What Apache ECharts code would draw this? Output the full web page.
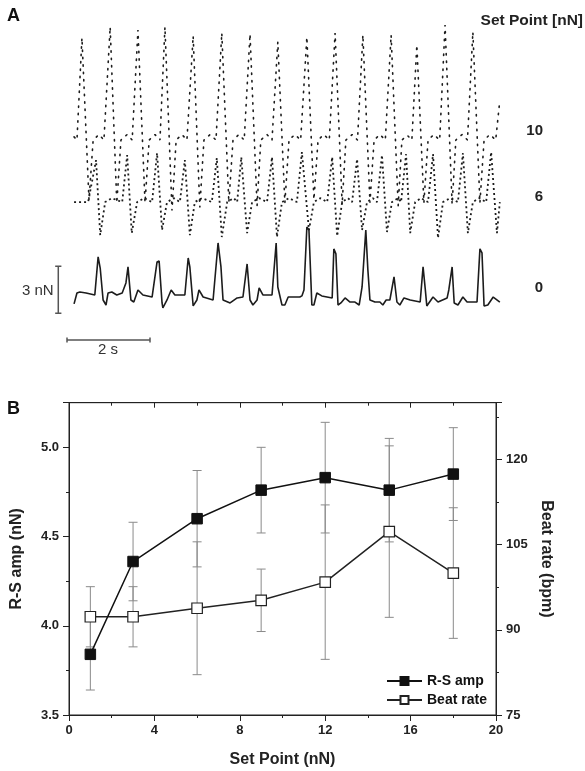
<!DOCTYPE html>
<html>
<head>
<meta charset="utf-8">
<script src="https://cdn.jsdelivr.net/npm/echarts@6/dist/echarts.min.js"></script>
<style>
html,body{margin:0;padding:0;background:#fff;}
#main{width:585px;height:771px;}
</style>
</head>
<body>
<div id="main"></div>
<script>
// ---------- Panel A: force traces (time in s, force in nN relative to each trace's own baseline)
var trace10 = [[0.17,0.2],[0.24,0],[0.36,6.51],[0.53,-3.83],[0.63,0],[0.77,0.35],[0.89,0],
 [0.92,0],[1.04,7.21],[1.20,-4.02],[1.30,0],[1.45,0.35],[1.57,0],
 [1.59,0],[1.71,7.02],[1.88,-4.0],[1.98,0],[2.12,0.35],
 [2.24,0],[2.36,7.21],[2.53,-4.5],[2.63,0],[2.77,0.35],
 [2.89,0],[3.04,6.64],[3.20,-4.3],[3.30,0],[3.45,0.35],
 [3.59,0],[3.73,6.83],[3.90,-4.0],[4.00,0],[4.14,0.35],
 [4.27,0],[4.41,6.76],[4.58,-4.2],[4.67,0],[4.82,0.35],
 [4.94,0],[5.08,6.25],[5.25,-4.0],[5.35,0],[5.49,0.35],
 [5.63,0],[5.78,6.57],[5.95,-3.8],[6.05,0],[6.19,0.35],
 [6.32,0],[6.46,6.83],[6.63,-4.1],[6.72,0],[6.87,0.35],
 [7.00,0],[7.13,6.70],[7.30,-4.0],[7.40,0],[7.54,0.35],
 [7.67,0],[7.81,6.70],[7.98,-4.2],[8.07,0],[8.20,0.3],
 [8.31,0],[8.43,6.06],[8.60,-4.0],[8.70,0],[8.84,0.35],
 [8.98,0],[9.11,7.34],[9.28,-4.1],[9.37,0],[9.52,0.35],
 [9.65,0],[9.78,6.89],[9.95,-4.0],[10.05,0],[10.19,0.35],
 [10.33,0],[10.43,2.55]];

var trace6 = [[0.17,0],
 [0.51,0],[0.70,2.68],[0.80,-2.11],[0.92,0],[1.08,0.25],
 [1.33,0],[1.45,3.0],[1.56,-1.98],[1.69,0],[1.86,0.25],
 [2.05,0],[2.17,3.13],[2.29,-1.79],[2.41,0],[2.58,0.25],
 [2.72,0],[2.84,2.68],[2.96,-2.11],[3.08,0],[3.25,0.25],
 [3.49,0],[3.61,2.81],[3.73,-2.23],[3.86,0],[4.02,0.25],
 [4.10,0],[4.20,2.87],[4.34,-1.98],[4.46,0],[4.63,0.25],
 [4.82,0],[4.94,2.87],[5.06,-2.23],[5.18,0],[5.35,0.25],
 [5.54,0],[5.66,3.19],[5.83,-1.79],[5.95,0],[6.10,0.25],
 [6.27,0],[6.39,2.87],[6.51,-2.17],[6.63,0],[6.77,0.25],
 [6.87,0],[6.99,2.74],[7.11,-1.79],[7.23,0],[7.37,0.25],
 [7.47,0],[7.59,3.0],[7.71,-1.91],[7.83,0],[7.98,0.25],
 [8.05,0],[8.17,3.06],[8.27,-1.98],[8.39,0],[8.53,0.25],
 [8.70,0],[8.82,3.06],[8.94,-2.30],[9.06,0],[9.23,0.25],
 [9.42,0],[9.54,3.13],[9.66,-1.98],[9.78,0],[9.93,0.25],
 [10.10,0],[10.22,3.19],[10.36,-1.98],[10.43,0]];

var trace0 = [[0.17,-0.38],[0.24,0.32],[0.31,0.38],[0.46,0.32],[0.67,0.19],[0.75,2.62],[0.80,1.91],[0.87,-0.13],[0.94,-0.45],[0.99,0.32],[1.08,0.38],[1.20,0.19],[1.33,0.32],[1.42,0.96],[1.47,1.98],[1.54,-0.13],[1.61,-0.26],[1.71,0.51],[1.83,0.19],[2.05,0.06],[2.17,2.30],[2.22,2.36],[2.29,-0.32],[2.31,-0.64],[2.41,-0.13],[2.51,0.51],[2.60,0.19],[2.84,0.19],[2.92,2.55],[2.96,1.98],[3.04,-0.51],[3.13,-0.13],[3.18,0.51],[3.28,0.06],[3.52,-0.13],[3.64,3.51],[3.71,1.98],[3.76,-0.13],[3.93,-0.32],[4.10,0.0],[4.24,0.06],[4.34,2.17],[4.41,-0.13],[4.48,-0.45],[4.58,-0.13],[4.63,0.64],[4.72,0.19],[4.94,0.19],[5.04,3.51],[5.08,0.70],[5.18,-0.45],[5.25,-0.45],[5.33,0.06],[5.45,0.06],[5.61,0.06],[5.66,0.13],[5.71,0.51],[5.78,4.53],[5.83,4.34],[5.90,-0.45],[5.95,-0.45],[6.02,0.32],[6.14,0.13],[6.39,0.0],[6.43,3.13],[6.48,2.81],[6.53,-0.45],[6.60,-0.32],[6.70,0.0],[6.82,-0.26],[6.94,-0.26],[7.04,-0.45],[7.11,0.70],[7.20,4.34],[7.25,1.79],[7.30,-0.13],[7.42,-0.26],[7.54,-0.26],[7.61,-0.45],[7.69,-0.13],[7.78,-0.13],[7.88,1.34],[7.95,-0.26],[8.02,-0.45],[8.12,0.0],[8.27,-0.13],[8.51,-0.26],[8.58,1.98],[8.63,0.64],[8.67,-0.51],[8.82,0.06],[8.94,-0.26],[9.16,0.0],[9.20,0.51],[9.28,1.98],[9.33,-0.32],[9.42,-0.45],[9.54,0.06],[9.64,-0.26],[9.88,-0.26],[9.95,3.13],[10.00,2.87],[10.05,-0.51],[10.14,-0.45],[10.27,0.06],[10.43,-0.26]];

var traceLabels = ['10', '6', '0'];
var scaleTime = 2;     // s
var scaleForce = 3;    // nN

// ---------- Panel B
var setPoints = [1, 3, 6, 9, 12, 15, 18];
var rsAmp   = [3.84, 4.36, 4.60, 4.76, 4.83, 4.76, 4.85];
var rsErr   = [0.20, 0.22, 0.27, 0.24, 0.31, 0.29, 0.26];
var beatRate = [92.3, 92.3, 93.8, 95.2, 98.4, 107.3, 100.0];
var beatErr  = [5.3, 5.3, 11.7, 5.5, 13.6, 15.1, 11.5];
var xTicks = [0, 4, 8, 12, 16, 20];
var leftTicks = [3.5, 4.0, 4.5, 5.0];
var rightTicks = [75, 90, 105, 120];

// ---------- layout (not data)
var FONT = '"Liberation Sans", Arial, Helvetica, sans-serif';
var offsets = {t10: 14.04, t6: 10.08, t0: 3.96};
function shift(arr, off){ return arr.map(function(p){ return [p[0], p[1] + off]; }); }

var vBarX = -0.21, vBarY0 = 2.98, capW = 0.075;
var hBarY = 1.28, hCapH = 0.16;

function errData(ys, es){ return setPoints.map(function(x,i){ return [x, ys[i]-es[i], ys[i]+es[i]]; }); }
function errRender(params, api){
  var x = api.value(0), lo = api.value(1), hi = api.value(2);
  var p1 = api.coord([x, hi]), p2 = api.coord([x, lo]);
  var w = 4.5, st = {stroke:'#8a8a8a', lineWidth:1};
  return {type:'group', children:[
    {type:'line', shape:{x1:p1[0],y1:p1[1],x2:p2[0],y2:p2[1]}, style:st},
    {type:'line', shape:{x1:p1[0]-w,y1:p1[1],x2:p1[0]+w,y2:p1[1]}, style:st},
    {type:'line', shape:{x1:p2[0]-w,y1:p2[1],x2:p2[0]+w,y2:p2[1]}, style:st}
  ]};
}

var chart = echarts.init(document.getElementById('main'), null, {renderer:'canvas'});
var traceColor = '#1c1c1c', barColor = '#555';
var boldLbl = {color:'#222', fontFamily:FONT, fontWeight:'bold', fontSize:13};
var axLine = {show:true, onZero:false, lineStyle:{color:'#222', width:1}};
var tickOut = {show:true, inside:false, length:6, lineStyle:{color:'#222'}};
var minorOut = {show:true, splitNumber:2, length:3, lineStyle:{color:'#222'}};
var titleStyle = {color:'#222', fontFamily:FONT, fontWeight:'bold', fontSize:16};

var option = {
  animation:false,
  backgroundColor:'#fff',
  textStyle:{fontFamily:FONT},
  grid:[
    {left:46.25, width:477.25, top:20, height:340, show:false},
    {left:69, right:89, top:402.7, height:312.3, show:true, borderColor:'#222', borderWidth:1, backgroundColor:'transparent'}
  ],
  xAxis:[
    {gridIndex:0, type:'value', min:-0.5, max:11, show:false},
    {gridIndex:1, type:'value', position:'bottom', min:xTicks[0], max:xTicks[xTicks.length-1], interval:4,
     axisLine:axLine, axisTick:tickOut, minorTick:minorOut, splitLine:{show:false},
     axisLabel:Object.assign({margin:9}, boldLbl),
     name:'Set Point (nN)', nameLocation:'middle', nameGap:37, nameTextStyle:titleStyle},
    {gridIndex:1, type:'value', position:'top', min:xTicks[0], max:xTicks[xTicks.length-1], interval:4,
     axisLine:axLine, axisTick:{show:true, inside:true, length:5, lineStyle:{color:'#222'}},
     minorTick:{show:true, splitNumber:2, length:3, lineStyle:{color:'#222'}},
     splitLine:{show:false}, axisLabel:{show:false}}
  ],
  yAxis:[
    {gridIndex:0, type:'value', min:0, max:21.70, show:false},
    {gridIndex:1, type:'value', position:'left', min:leftTicks[0], max:5.25, interval:0.5,
     axisLine:axLine, axisTick:tickOut, minorTick:minorOut, splitLine:{show:false},
     axisLabel:Object.assign({margin:10, showMaxLabel:false, formatter:function(v){ return leftTicks.indexOf(+v.toFixed(2))>=0 ? v.toFixed(1) : ''; }}, boldLbl),
     name:'R-S amp (nN)', nameLocation:'middle', nameGap:44, nameTextStyle:titleStyle},
    {gridIndex:1, type:'value', position:'right', min:rightTicks[0], max:130, interval:15,
     axisLine:axLine, axisTick:tickOut, minorTick:minorOut, splitLine:{show:false},
     axisLabel:Object.assign({margin:10, showMaxLabel:false, formatter:function(v){ return rightTicks.indexOf(Math.round(v))>=0 && Math.abs(v-Math.round(v))<1e-6 ? String(Math.round(v)) : ''; }}, boldLbl),
     name:'Beat rate (bpm)', nameLocation:'middle', nameGap:42, nameRotate:-90, nameTextStyle:titleStyle}
  ],
  legend:{
    data:['R-S amp','Beat rate'], orient:'vertical', left:381, top:669,
    itemWidth:35, itemHeight:10, itemGap:5,
    textStyle:{color:'#111', fontFamily:FONT, fontWeight:'bold', fontSize:14}
  },
  graphic:[
    {type:'text', left:7, top:7, style:{text:'A', fill:'#111', font:'bold 18px '+FONT}},
    {type:'text', left:7, top:400, style:{text:'B', fill:'#111', font:'bold 18px '+FONT}},
    {type:'text', right:2, top:13, style:{text:'Set Point [nN]', fill:'#222', font:'bold 15.5px '+FONT}},
    {type:'text', right:42, top:123, style:{text:traceLabels[0], fill:'#222', font:'bold 15px '+FONT}},
    {type:'text', right:42, top:189, style:{text:traceLabels[1], fill:'#222', font:'bold 15px '+FONT}},
    {type:'text', right:42, top:280, style:{text:traceLabels[2], fill:'#222', font:'bold 15px '+FONT}},
    {type:'text', left:22, top:283, style:{text:scaleForce+' nN', fill:'#333', font:'15px '+FONT}},
    {type:'text', left:98, top:342, style:{text:scaleTime+' s', fill:'#333', font:'15px '+FONT}}
  ],
  series:[
    {name:'tr10', type:'line', xAxisIndex:0, yAxisIndex:0, data:shift(trace10, offsets.t10), showSymbol:false, symbol:'none',
     lineStyle:{color:traceColor, width:1.6, type:[1.4,6], cap:'round'}, silent:true, z:2},
    {name:'tr6', type:'line', xAxisIndex:0, yAxisIndex:0, data:shift(trace6, offsets.t6), showSymbol:false, symbol:'none',
     lineStyle:{color:traceColor, width:1.8, type:[2,3]}, silent:true, z:2},
    {name:'tr0', type:'line', xAxisIndex:0, yAxisIndex:0, data:shift(trace0, offsets.t0), showSymbol:false, symbol:'none',
     lineStyle:{color:traceColor, width:1.6}, silent:true, z:2},
    // scale bars
    {name:'vbar', type:'line', xAxisIndex:0, yAxisIndex:0, symbol:'none', silent:true,
     data:[[vBarX, vBarY0],[vBarX, vBarY0+scaleForce]], lineStyle:{color:barColor, width:1.5}},
    {name:'vcap1', type:'line', xAxisIndex:0, yAxisIndex:0, symbol:'none', silent:true,
     data:[[vBarX-capW, vBarY0],[vBarX+capW, vBarY0]], lineStyle:{color:barColor, width:1.5}},
    {name:'vcap2', type:'line', xAxisIndex:0, yAxisIndex:0, symbol:'none', silent:true,
     data:[[vBarX-capW, vBarY0+scaleForce],[vBarX+capW, vBarY0+scaleForce]], lineStyle:{color:barColor, width:1.5}},
    {name:'hbar', type:'line', xAxisIndex:0, yAxisIndex:0, symbol:'none', silent:true,
     data:[[0, hBarY],[scaleTime, hBarY]], lineStyle:{color:barColor, width:1.5}},
    {name:'hcap1', type:'line', xAxisIndex:0, yAxisIndex:0, symbol:'none', silent:true,
     data:[[0, hBarY-hCapH],[0, hBarY+hCapH]], lineStyle:{color:barColor, width:1.5}},
    {name:'hcap2', type:'line', xAxisIndex:0, yAxisIndex:0, symbol:'none', silent:true,
     data:[[scaleTime, hBarY-hCapH],[scaleTime, hBarY+hCapH]], lineStyle:{color:barColor, width:1.5}},
    // panel B error bars
    {name:'rsErr', type:'custom', xAxisIndex:1, yAxisIndex:1, data:errData(rsAmp, rsErr),
     encode:{x:0, y:[1,2]}, renderItem:errRender, silent:true, z:1},
    {name:'beatErr', type:'custom', xAxisIndex:1, yAxisIndex:2, data:errData(beatRate, beatErr),
     encode:{x:0, y:[1,2]}, renderItem:errRender, silent:true, z:1},
    // panel B series
    {name:'R-S amp', type:'line', xAxisIndex:1, yAxisIndex:1,
     data:setPoints.map(function(x,i){ return [x, rsAmp[i]]; }),
     symbol:'rect', symbolSize:10.5, showSymbol:true,
     itemStyle:{color:'#111', borderColor:'#111', borderWidth:1},
     lineStyle:{color:'#111', width:1.5}, z:4},
    {name:'Beat rate', type:'line', xAxisIndex:1, yAxisIndex:2,
     data:setPoints.map(function(x,i){ return [x, beatRate[i]]; }),
     symbol:'rect', symbolSize:10.5, showSymbol:true,
     itemStyle:{color:'#fff', borderColor:'#222', borderWidth:1.2},
     lineStyle:{color:'#222', width:1.5}, z:3}
  ]
};
chart.setOption(option);
</script>
</body>
</html>
